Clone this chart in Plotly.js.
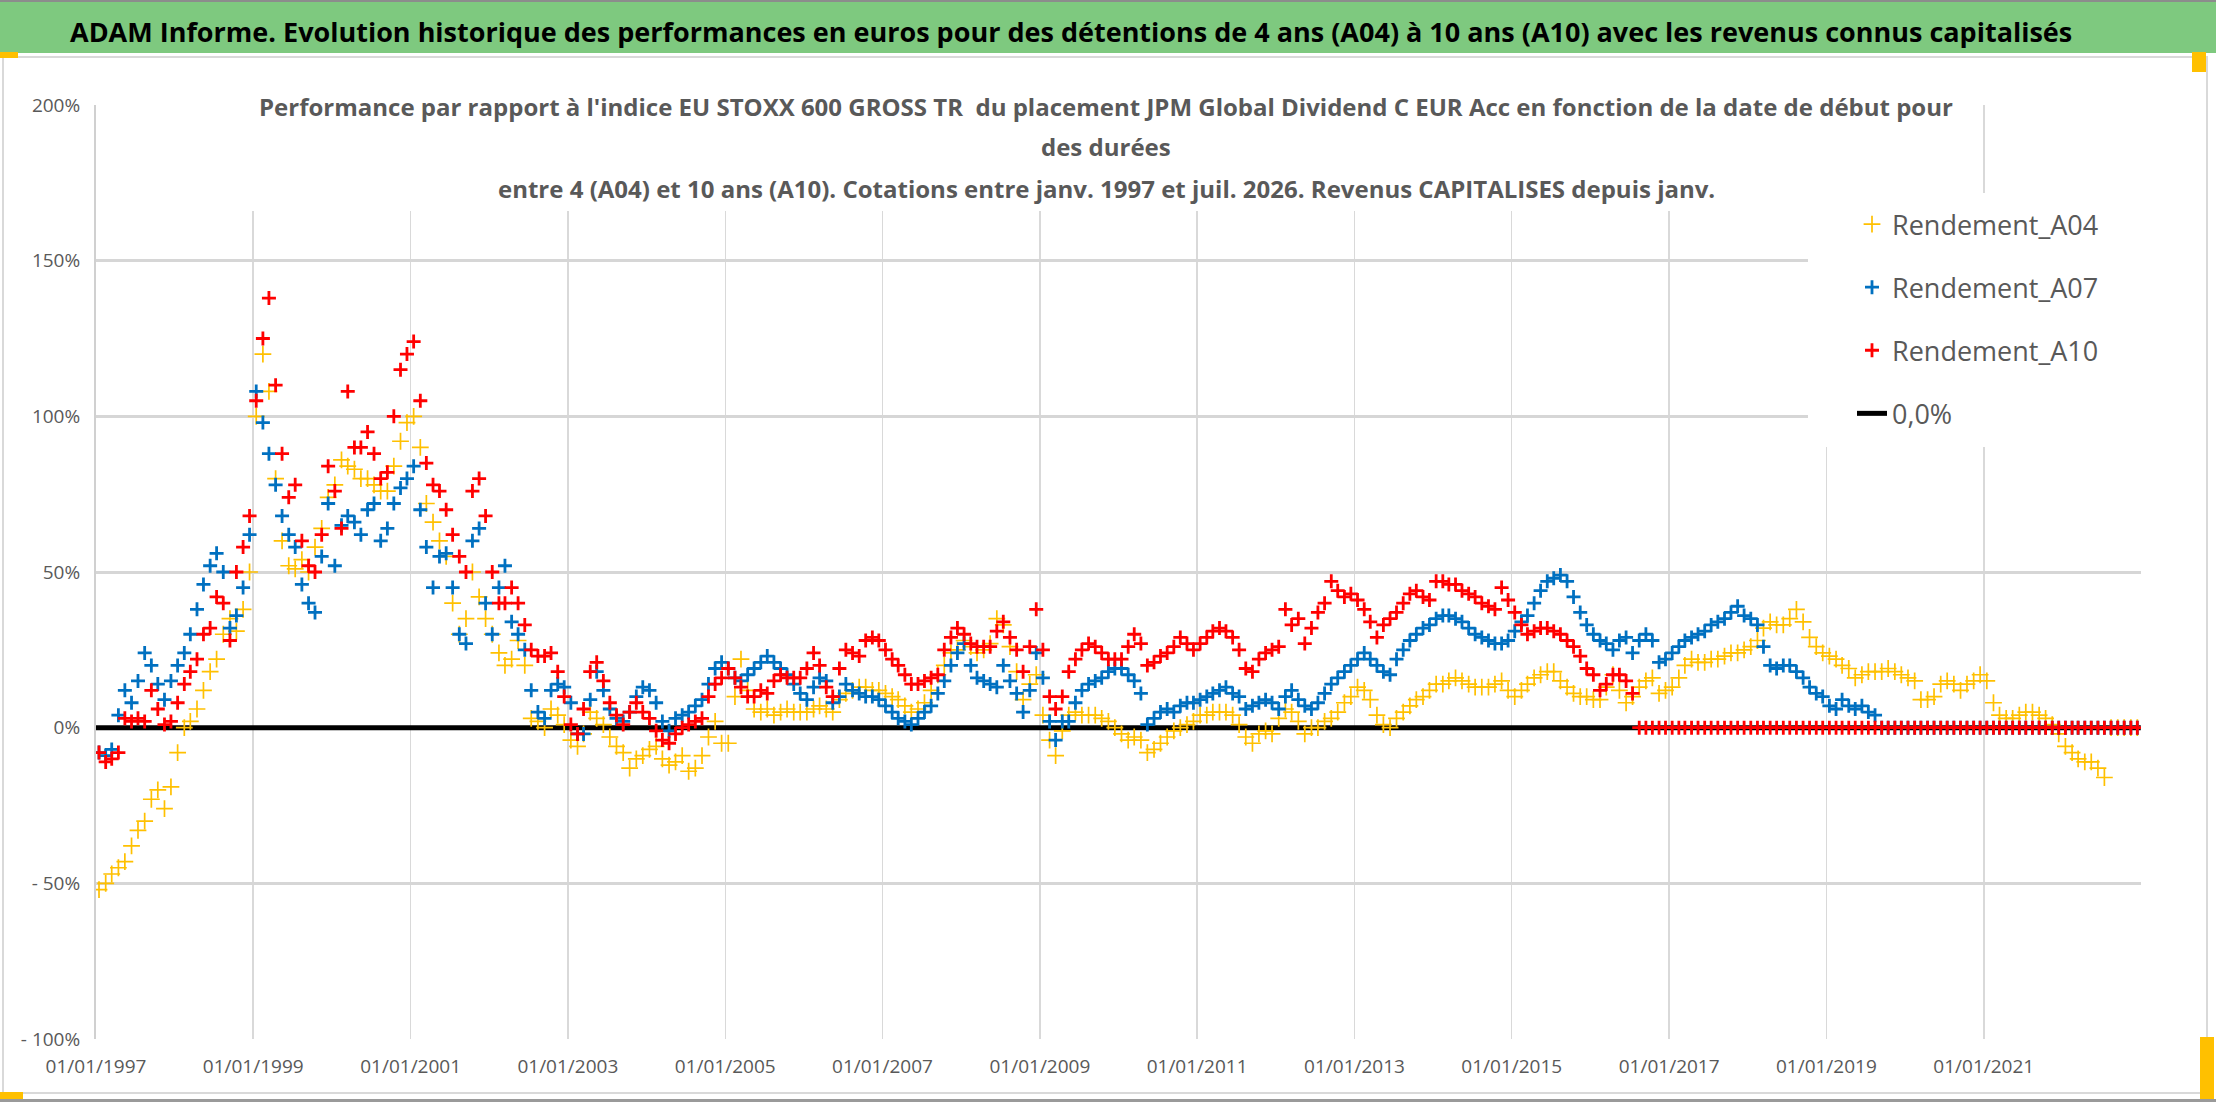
<!DOCTYPE html>
<html>
<head>
<meta charset="utf-8">
<script src="https://cdn.plot.ly/plotly-3.0.1.min.js"></script>
<style>
  html, body { margin: 0; padding: 0; background: #fff; }
  #chart { width: 2216px; height: 1102px; }
</style>
</head>
<body>
<div id="chart"></div>
<script>
// ─── Data (valeurs mensuelles, en %) ─────────────────────────────────────────

const FIRST_YEAR = 1997;
const LAST_YEAR  = 2022;

const rendementA04 = [
  -52, -50, -47, -45, -43, -38, -33, -30, -23, -20, -26, -19,   // 1997
   -8,   0,   2,   6,  12,  18,  22,  30,  35,  31,  38,  50,   // 1998
  100, 120, 108,  80,  60,  52,  51,  54,  50,  58,  64,  74,   // 1999
   78,  86,  84,  83,  80,  80,  78,  76,  76,  84,  92,  98,   // 2000
  100,  90,  72,  66,  60,  55,  40,  30,  35,  50,  42,  35,   // 2001
   30,  24,  20,  22,  28,  20,   3,   2,   0,   6,   4,   1,   // 2002
   -4,  -6,  -2,   5,   3,   1,  -3,  -6,  -8, -13, -10,  -9,   // 2003
   -7,  -6, -10, -12, -11,  -9, -14, -13,  -9,  -3,   2,  -5,   // 2004
   -5,  10,  22,  12,   6,   5,   6,   4,   5,   6,   5,   5,   // 2005
    5,   6,   7,   6,   5,   9,  11,  12,  13,  13,  12,  12,   // 2006
   11,  10,   9,   7,   5,   6,   8,  12,  17,  20,  24,  25,   // 2007
   28,  26,  24,  25,  27,  35,  33,  26,  18,   9,  14,  17,   // 2008
    4,  -4,  -9,  -1,   4,   5,   4,   4,   4,   3,   2,   0,   // 2009
   -2,  -4,  -3,  -4,  -8,  -7,  -5,  -3,  -1,   0,   1,   2,   // 2010
    4,   4,   5,   5,   5,   4,   1,  -3,  -5,  -2,  -1,  -2,   // 2011
    3,   6,   5,   2,  -2,   0,   0,   2,   3,   5,   8,  10,   // 2012
   13,  12,   9,   4,   1,   0,   3,   5,   7,   9,  10,  12,   // 2013
   14,  14,  15,  16,  15,  14,  13,  13,  13,  14,  15,  12,   // 2014
   10,  12,  14,  16,  17,  18,  18,  15,  13,  11,  10,  10,   // 2015
    9,   9,  13,  17,  12,   8,  10,  13,  15,  16,  11,  12,   // 2016
   13,  16,  20,  22,  21,  21,  22,  22,  23,  24,  24,  25,   // 2017
   26,  28,  32,  34,  33,  33,  35,  38,  34,  29,  26,  24,   // 2018
   23,  22,  20,  19,  16,  17,  18,  18,  18,  19,  18,  17,   // 2019
   16,  15,   9,   9,  10,  14,  15,  14,  12,  14,  15,  17,   // 2020
   15,   8,   4,   3,   3,   4,   5,   5,   4,   3,   1,  -2,   // 2021
   -6,  -8, -10, -11, -11, -13, -16,   0,   0,   0,   0,   0,   // 2022
];

const rendementA07 = [
   -8,  -9,  -7,   4,  12,   8,  15,  24,  20,  14,   9,  15,   // 1997
   20,  24,  30,  38,  46,  52,  56,  50,  32,  36,  45,  62,   // 1998
  108,  98,  88,  78,  68,  62,  58,  46,  40,  37,  55,  72,   // 1999
   52,  65,  68,  66,  62,  70,  72,  60,  64,  72,  77,  80,   // 2000
   84,  70,  58,  45,  55,  56,  45,  30,  27,  60,  64,  40,   // 2001
   30,  45,  52,  34,  30,  25,  12,   5,   3,  12,  14,  13,   // 2002
    8,  -2,  -2,   9,  18,  12,   6,   3,   2,   5,  10,  13,   // 2003
   12,   8,   2,  -1,   3,   4,   5,   7,   9,  14,  19,  21,   // 2004
   19,  16,  15,  17,  19,  21,  23,  21,  19,  17,  14,  11,   // 2005
    9,  13,  16,  15,   8,  10,  14,  12,  11,  10,  10,   9,   // 2006
    7,   5,   3,   2,   1,   3,   5,   7,  11,  15,  20,  24,   // 2007
   27,  20,  16,  15,  14,  13,  20,  15,  11,   5,  12,  24,   // 2008
   16,   2,  -4,   2,   2,   8,  12,  14,  15,  16,  18,  19,   // 2009
   19,  17,  15,  11,   1,   3,   5,   6,   5,   7,   8,   8,   // 2010
    9,  10,  11,  12,  13,  11,  10,   6,   7,   8,   9,   8,   // 2011
    6,  10,  12,   9,   7,   6,   8,  11,  14,  16,  18,  20,   // 2012
   22,  24,  22,  20,  18,  17,  22,  25,  28,  30,  32,  33,   // 2013
   35,  36,  36,  35,  34,  32,  30,  29,  28,  27,  27,  28,   // 2014
   31,  34,  36,  40,  44,  47,  48,  49,  47,  42,  37,  33,   // 2015
   30,  28,  27,  25,  28,  29,  24,  28,  30,  28,  21,  22,   // 2016
   24,  26,  28,  29,  30,  31,  33,  34,  35,  37,  39,  36,   // 2017
   35,  33,  26,  20,  19,  20,  20,  18,  16,  13,  11,  10,   // 2018
    7,   6,   9,   7,   6,   7,   5,   4,   0,   0,   0,   0,   // 2019
    0,   0,   0,   0,   0,   0,   0,   0,   0,   0,   0,   0,   // 2020
    0,   0,   0,   0,   0,   0,   0,   0,   0,   0,   0,   0,   // 2021
    0,   0,   0,   0,   0,   0,   0,   0,   0,   0,   0,   0,   // 2022
];

const rendementA10 = [
   -8, -11, -10,  -8,   3,   2,   3,   2,  12,   6,   1,   2,   // 1997
    8,  14,  18,  22,  30,  32,  42,  40,  28,  50,  58,  68,   // 1998
  105, 125, 138, 110,  88,  74,  78,  60,  52,  50,  62,  84,   // 1999
   76,  64, 108,  90,  90,  95,  88,  80,  82, 100, 115, 120,   // 2000
  124, 105,  85,  78,  76,  70,  62,  55,  50,  76,  80,  68,   // 2001
   50,  40,  40,  45,  40,  33,  25,  23,  23,  24,  18,  10,   // 2002
    1,  -2,   6,  18,  21,  15,   8,   4,   1,   5,   8,   5,   // 2003
    3,  -1,  -4,  -5,  -2,   0,   1,   2,   3,  10,  14,  16,   // 2004
   19,  16,  13,  10,  10,  12,  11,  15,  17,  16,  16,  16,   // 2005
   19,  24,  20,  13,  10,  19,  25,  24,  23,  28,  29,  28,   // 2006
   25,  22,  20,  17,  14,  14,  15,  16,  17,  25,  29,  32,   // 2007
   30,  27,  26,  26,  26,  31,  34,  29,  25,  18,  26,  38,   // 2008
   25,  10,   6,  10,  18,  22,  25,  27,  26,  24,  22,  22,   // 2009
   22,  26,  30,  27,  20,  21,  23,  24,  26,  29,  27,  25,   // 2010
   27,  29,  31,  32,  31,  29,  25,  19,  18,  22,  24,  25,   // 2011
   26,  38,  33,  35,  27,  32,  37,  40,  47,  44,  42,  43,   // 2012
   41,  38,  34,  29,  33,  35,  37,  40,  43,  44,  42,  41,   // 2013
   47,  47,  46,  46,  44,  43,  42,  40,  39,  38,  45,  41,   // 2014
   37,  33,  30,  31,  32,  32,  31,  30,  28,  26,  23,  19,   // 2015
   17,  12,  14,  17,  17,  15,  11,   0,   0,   0,   0,   0,   // 2016
    0,   0,   0,   0,   0,   0,   0,   0,   0,   0,   0,   0,   // 2017
    0,   0,   0,   0,   0,   0,   0,   0,   0,   0,   0,   0,   // 2018
    0,   0,   0,   0,   0,   0,   0,   0,   0,   0,   0,   0,   // 2019
    0,   0,   0,   0,   0,   0,   0,   0,   0,   0,   0,   0,   // 2020
    0,   0,   0,   0,   0,   0,   0,   0,   0,   0,   0,   0,   // 2021
    0,   0,   0,   0,   0,   0,   0,   0,   0,   0,   0,   0,   // 2022
];

const zeroDates  = ['1997-01-01', '2022-12-31'];
const zeroValues = [0, 0];

const xTickYears  = [1997, 1999, 2001, 2003, 2005, 2007, 2009, 2011, 2013, 2015, 2017, 2019, 2021];
const yTickValues = [-100, -50, 0, 50, 100, 150, 200];
const yTickLabels = ['- 100%', '- 50%', '0%', '50%', '100%', '150%', '200%'];

const BANNER_TEXT = 'ADAM Informe. Evolution historique des performances en euros pour des détentions de 4 ans (A04) à 10 ans (A10) avec les revenus connus capitalisés';
const TITLE_LINES = [
  "Performance par rapport à l'indice EU STOXX 600 GROSS TR  du placement JPM Global Dividend C EUR Acc en fonction de la date de début pour",
  'des durées',
  'entre 4 (A04) et 10 ans (A10). Cotations entre janv. 1997 et juil. 2026. Revenus CAPITALISES depuis janv.',
];

// ─── Layout helpers (pixels -> paper) ────────────────────────────────────────

const W = 2216, H = 1102;
const M = { l: 96, r: 75, t: 105, b: 63 };
const PW = W - M.l - M.r, PH = H - M.t - M.b;
const px = (x) => (x - M.l) / PW;
const py = (y) => (H - M.b - y) / PH;

const GREY_TXT = '#595959';
const FONT     = '"Open Sans", "DejaVu Sans", sans-serif';

const months = [];
for (let y = FIRST_YEAR; y <= LAST_YEAR; y++) {
  for (let m = 1; m <= 12; m++) months.push(`${y}-${String(m).padStart(2, '0')}-15`);
}

function crossTrace(name, values, color, size, width, rank) {
  return {
    x: months, y: values, name, type: 'scatter', mode: 'markers',
    legendgroup: name, legendrank: rank,
    marker: { symbol: 'cross-thin', size, color, line: { color, width } },
    hoverinfo: 'x+y',
  };
}

function rect(x0, y0, x1, y1, fill, line) {
  return {
    type: 'rect', xref: 'paper', yref: 'paper', layer: 'above',
    x0: px(x0), x1: px(x1), y0: py(y1), y1: py(y0),
    fillcolor: fill, line: line ?? { width: 0 },
  };
}

// ─── Traces ──────────────────────────────────────────────────────────────────

const traces = [
  {
    x: zeroDates, y: zeroValues, name: '0,0%', type: 'scatter', mode: 'lines',
    legendgroup: 'zero', legendrank: 4,
    line: { color: '#000000', width: 5 },
  },
  crossTrace('Rendement_A04', rendementA04, '#FFC000', 12, 1.7, 1),
  crossTrace('Rendement_A07', rendementA07, '#0070C0', 10, 2.8, 2),
  crossTrace('Rendement_A10', rendementA10, '#FF0000', 10, 2.8, 3),
];

// ─── Layout ──────────────────────────────────────────────────────────────────

const shapes = [
  rect(0, 0, W, 2, '#8c8c8c'),
  rect(0, 2, W, 53, '#7EC97F'),
  rect(3, 57, 2207, 1093, 'rgba(0,0,0,0)', { color: '#d9d9d9', width: 2 }),
  rect(240, 66, 1967, 211, '#ffffff'),          // fond du titre
  rect(1808, 193, 2141, 447, '#ffffff'),        // fond de la légende
  rect(0, 1099, W, 1102, '#9a9a9a'),
  rect(0, 52, 18, 58, '#FFC000'),
  rect(2192, 52, 2206, 72, '#FFC000'),
  rect(0, 1092, 23, 1099, '#FFC000'),
  rect(2200, 1037, 2214, 1099, '#FFC000'),
];

const annotations = [
  {
    xref: 'paper', yref: 'paper', x: px(1071), y: py(31), xanchor: 'center', yanchor: 'middle',
    text: BANNER_TEXT, showarrow: false,
    font: { family: FONT, size: 27, color: '#000000', weight: 'bold' },
  },
  ...TITLE_LINES.map((line, i) => ({
    xref: 'paper', yref: 'paper', x: px(1106), y: py([106, 146, 188][i]),
    xanchor: 'center', yanchor: 'middle', text: line, showarrow: false,
    font: { family: FONT, size: 24, color: GREY_TXT, weight: 'bold' },
  })),
];

const layout = {
  width: W, height: H,
  margin: M,
  paper_bgcolor: '#ffffff', plot_bgcolor: '#ffffff',
  font: { family: FONT, color: GREY_TXT },
  showlegend: true,
  legend: {
    x: px(1852), y: py(200), xanchor: 'left', yanchor: 'top',
    bgcolor: 'rgba(0,0,0,0)', borderwidth: 0,
    font: { family: FONT, size: 27, color: GREY_TXT },
    tracegroupgap: 25, traceorder: 'grouped',
  },
  xaxis: {
    type: 'date',
    range: ['1997-01-01', '2023-01-01'],
    tickvals: xTickYears.map((y) => `${y}-01-01`),
    ticktext: xTickYears.map((y) => `01/01/${y}`),
    showgrid: true, gridcolor: '#d9d9d9', gridwidth: 1.5,
    zeroline: false, showline: false, ticks: '',
    ticklabelstandoff: 14,
    tickfont: { family: FONT, size: 19, color: GREY_TXT },
  },
  yaxis: {
    range: [-100, 200],
    tickvals: yTickValues, ticktext: yTickLabels,
    showgrid: true, gridcolor: '#d6d6d6', gridwidth: 3,
    zeroline: false, showline: true, linecolor: '#d0d0d0', linewidth: 2,
    ticks: '', ticklabelstandoff: 10,
    tickfont: { family: FONT, size: 19, color: GREY_TXT },
  },
  shapes, annotations,
};

Plotly.newPlot('chart', traces, layout, { displayModeBar: false, staticPlot: true });
</script>
</body>
</html>
